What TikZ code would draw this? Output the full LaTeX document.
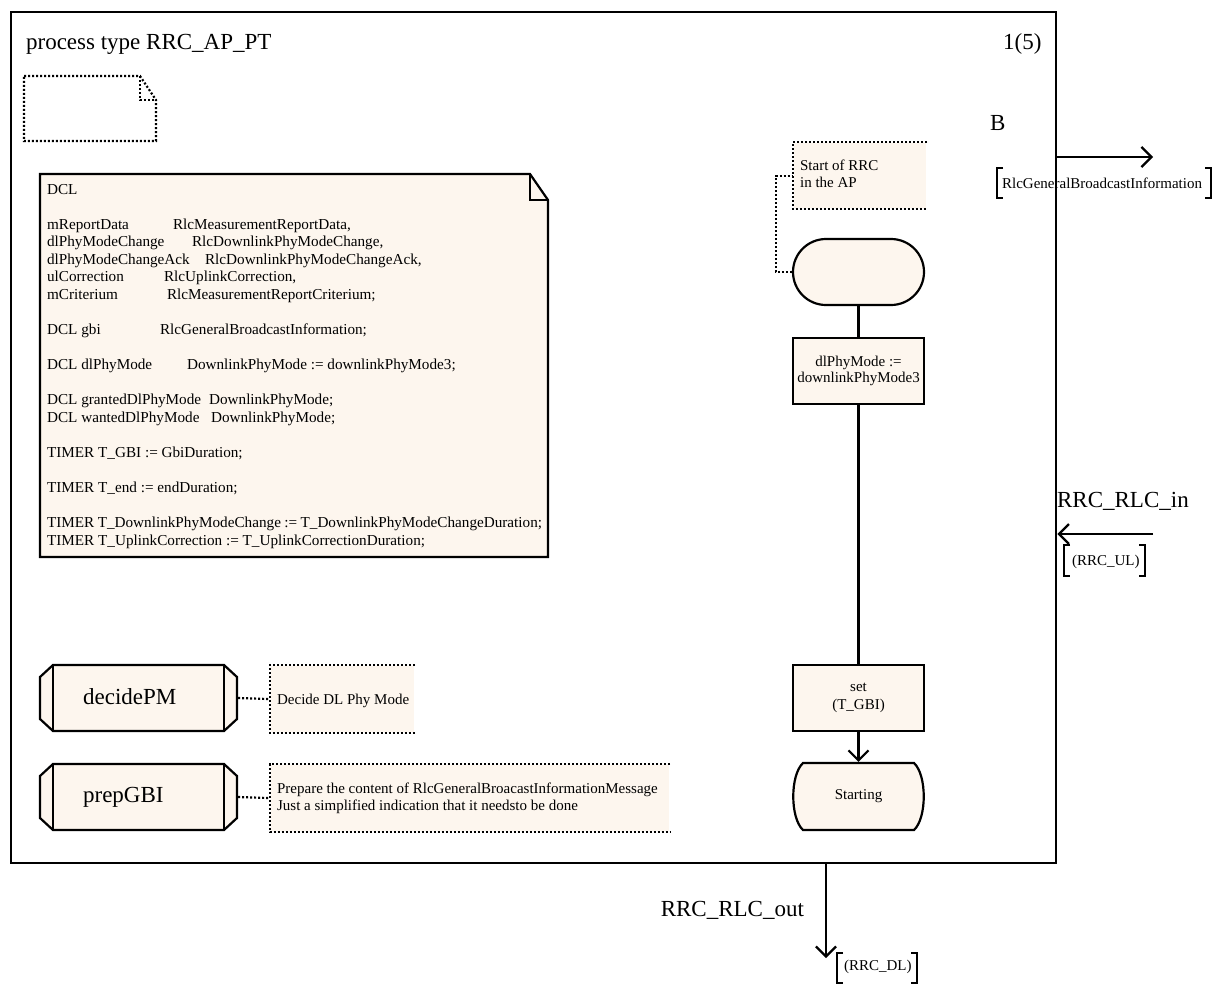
\documentclass[tikz,border=0pt]{standalone}
\usepackage{fontspec}
\setmainfont{Liberation Serif}
\usetikzlibrary{arrows.meta,calc}
\definecolor{cream}{RGB}{253,246,238}
\newcommand{\dcltab}[2]{\makebox[#1pt][l]{#2}}
\newcommand{\txtlines}[2]{\parbox[t]{#1}{\fontsize{15}{17.5}\selectfont #2}}
\begin{document}
\begin{tikzpicture}[x=1pt,y=-1pt,line width=2.2pt,
  big/.style={font=\fontsize{23}{27}\selectfont,inner sep=0},
  small/.style={font=\fontsize{15}{17.5}\selectfont,inner sep=0},
  solidbox/.style={draw,fill=cream,line width=2.2pt,minimum width=131pt,minimum height=66pt,inner sep=0},
  cmtbox/.style={fill=cream,inner sep=0,anchor=north west},
  dots/.style={line width=2.2pt,dash pattern=on 2pt off 2pt},
  arr/.style={-{Straight Barb[length=10pt,width=20pt,line width=2.2pt]}},
  ghost/.style={inner sep=0,minimum width=197pt,minimum height=66pt}]
\useasboundingbox (0,0) rectangle (1218,985);
\fill[white] (0,0) rectangle (1218,985);

% frame
\node[draw,line width=2.4pt,minimum width=1045pt,minimum height=851pt,anchor=north west,inner sep=0] (frame) at (10,11) {};
\node[big,anchor=base west] (title) at (25,49) {process type RRC\_AP\_PT};
\node[big,anchor=base west] (page) at (1002,49) {1(5)};

% empty dotted note
\draw[dots] (24,76) -- (140,76) -- (156,100) -- (156,141) -- (24,141) -- cycle;
\draw[dots] (140,76) -- (140,100) -- (156,100);

% DCL note
\filldraw[fill=cream] (40,174) -- (530,174) -- (548,200) -- (548,557) -- (40,557) -- cycle;
\draw (530,174) -- (530,200) -- (548,200);
\node[inner sep=0,anchor=base west] (dcl) at (46,194) {\parbox[t]{495pt}{\fontsize{15.2}{17.55}\selectfont
DCL\\[17.55pt]
\dcltab{126}{mReportData}RlcMeasurementReportData,\\
\dcltab{145}{dlPhyModeChange}RlcDownlinkPhyModeChange,\\
\dcltab{158}{dlPhyModeChangeAck}RlcDownlinkPhyModeChangeAck,\\
\dcltab{117}{ulCorrection}RlcUplinkCorrection,\\
\dcltab{120}{mCriterium}RlcMeasurementReportCriterium;\\[17.55pt]
\dcltab{113}{DCL gbi}RlcGeneralBroadcastInformation;\\[17.55pt]
\dcltab{140}{DCL dlPhyMode}DownlinkPhyMode := downlinkPhyMode3;\\[17.55pt]
\dcltab{162}{DCL grantedDlPhyMode}DownlinkPhyMode;\\
\dcltab{164}{DCL wantedDlPhyMode}DownlinkPhyMode;\\[17.55pt]
TIMER T\_GBI := GbiDuration;\\[17.55pt]
TIMER T\_end := endDuration;\\[17.55pt]
TIMER T\_DownlinkPhyModeChange := T\_DownlinkPhyModeChangeDuration;\\
TIMER T\_UplinkCorrection := T\_UplinkCorrectionDuration;}};

% procedure references
\filldraw[fill=cream] (53,665) -- (224,665) -- (237,677) -- (237,719) -- (224,731) -- (53,731) -- (40,719) -- (40,677) -- cycle;
\draw (53,665) -- (53,731) (224,665) -- (224,731);
\node[ghost] (decidepm) at (138.5,698) {};
\node[big,anchor=base west] (decidepmtxt) at (82,704) {decidePM};

\filldraw[fill=cream] (53,764) -- (224,764) -- (237,776) -- (237,818) -- (224,830) -- (53,830) -- (40,818) -- (40,776) -- cycle;
\draw (53,764) -- (53,830) (224,764) -- (224,830);
\node[ghost] (prepgbi) at (138.5,797) {};
\node[big,anchor=base west] (prepgbitxt) at (82,802) {prepGBI};

% comments for procedures
\node[cmtbox,minimum width=143pt,minimum height=66pt] (decidecmt) at (270,665) {};
\draw[dots] (decidecmt.north east) -- (decidecmt.north west) -- (decidecmt.south west) -- (decidecmt.south east);
\node[small,anchor=base west] (decidecmttxt) at (276,704) {Decide DL Phy Mode};
\draw[dots] (decidepm.east) -- (decidecmt.west);

\node[cmtbox,minimum width=398pt,minimum height=66pt] (prepcmt) at (270,764) {};
\draw[dots] (prepcmt.north east) -- (prepcmt.north west) -- (prepcmt.south west) -- (prepcmt.south east);
\node[inner sep=0,anchor=base west] (prepcmttxt) at (276,793) {\txtlines{390pt}{Prepare the content of RlcGeneralBroacastInformationMessage\\Just a simplified indication that it needsto be done}};
\draw[dots] (prepgbi.east) -- (prepcmt.west);

% process flow
\node[solidbox,rounded corners=33pt] (start) at (858.5,272) {};
\node[cmtbox,minimum width=132pt,minimum height=65pt] (startcmt) at (793,142) {};
\draw[dots] (startcmt.north east) -- (startcmt.north west) -- (startcmt.south west) -- (startcmt.south east);
\node[inner sep=0,anchor=base west] (startcmttxt) at (799,170) {\txtlines{120pt}{Start of RRC\\in the AP}};
\draw[dots] (start.west) -- ++(-16,0) |- (startcmt.west);

\node[solidbox,align=center,font=\fontsize{15}{16.5}\selectfont] (task) at (858.5,371) {dlPhyMode :=\\downlinkPhyMode3};
\node[solidbox,align=center,font=\fontsize{15}{18}\selectfont] (settimer) at (858.5,698) {set\\(T\_GBI)};

\filldraw[fill=cream] (803,763) -- (914,763) .. controls (927,775) and (927,818) .. (914,830) -- (803,830) .. controls (790,818) and (790,775) .. (803,763) -- cycle;
\node[inner sep=0,minimum width=131pt,minimum height=67pt,font=\fontsize{15}{17.5}\selectfont] (starting) at (858.5,796.5) {Starting};

\draw (start.south) -- (task.north);
\draw (task.south) -- (settimer.north);
\draw[arr] (settimer.south) -- (starting.north);

% channel B
\coordinate (bout) at (1153,157);
\draw[arr] (frame.east |- bout) -- (bout);
\node[big,anchor=base west] (blabel) at (989,130) {B};
\node[small,anchor=base west] (bsig) at (1001,188) {RlcGeneralBroadcastInformation};
\draw (1003,168) -- (997,168) -- (997,198) -- (1003,198);
\draw (1205,168) -- (1211,168) -- (1211,198) -- (1205,198);

% channel RRC_RLC_in
\coordinate (instart) at (1153,534);
\draw[arr] (instart) -- (frame.east |- instart);
\node[big,anchor=base west] (inlabel) at (1056,507) {RRC\_RLC\_in};
\node[small,anchor=base west] (insig) at (1071,565) {(RRC\_UL)};
\draw (1070,545) -- (1064,545) -- (1064,576) -- (1070,576);
\draw (1139,545) -- (1145,545) -- (1145,576) -- (1139,576);

% channel RRC_RLC_out
\coordinate (outend) at (826,958);
\draw[arr] (frame.south -| outend) -- (outend);
\node[big,anchor=base east] (outlabel) at (805,916) {RRC\_RLC\_out};
\node[small,anchor=base west] (outsig) at (843,970) {(RRC\_DL)};
\draw (843,953) -- (837,953) -- (837,983) -- (843,983);
\draw (911,953) -- (917,953) -- (917,983) -- (911,983);
\end{tikzpicture}
\end{document}
